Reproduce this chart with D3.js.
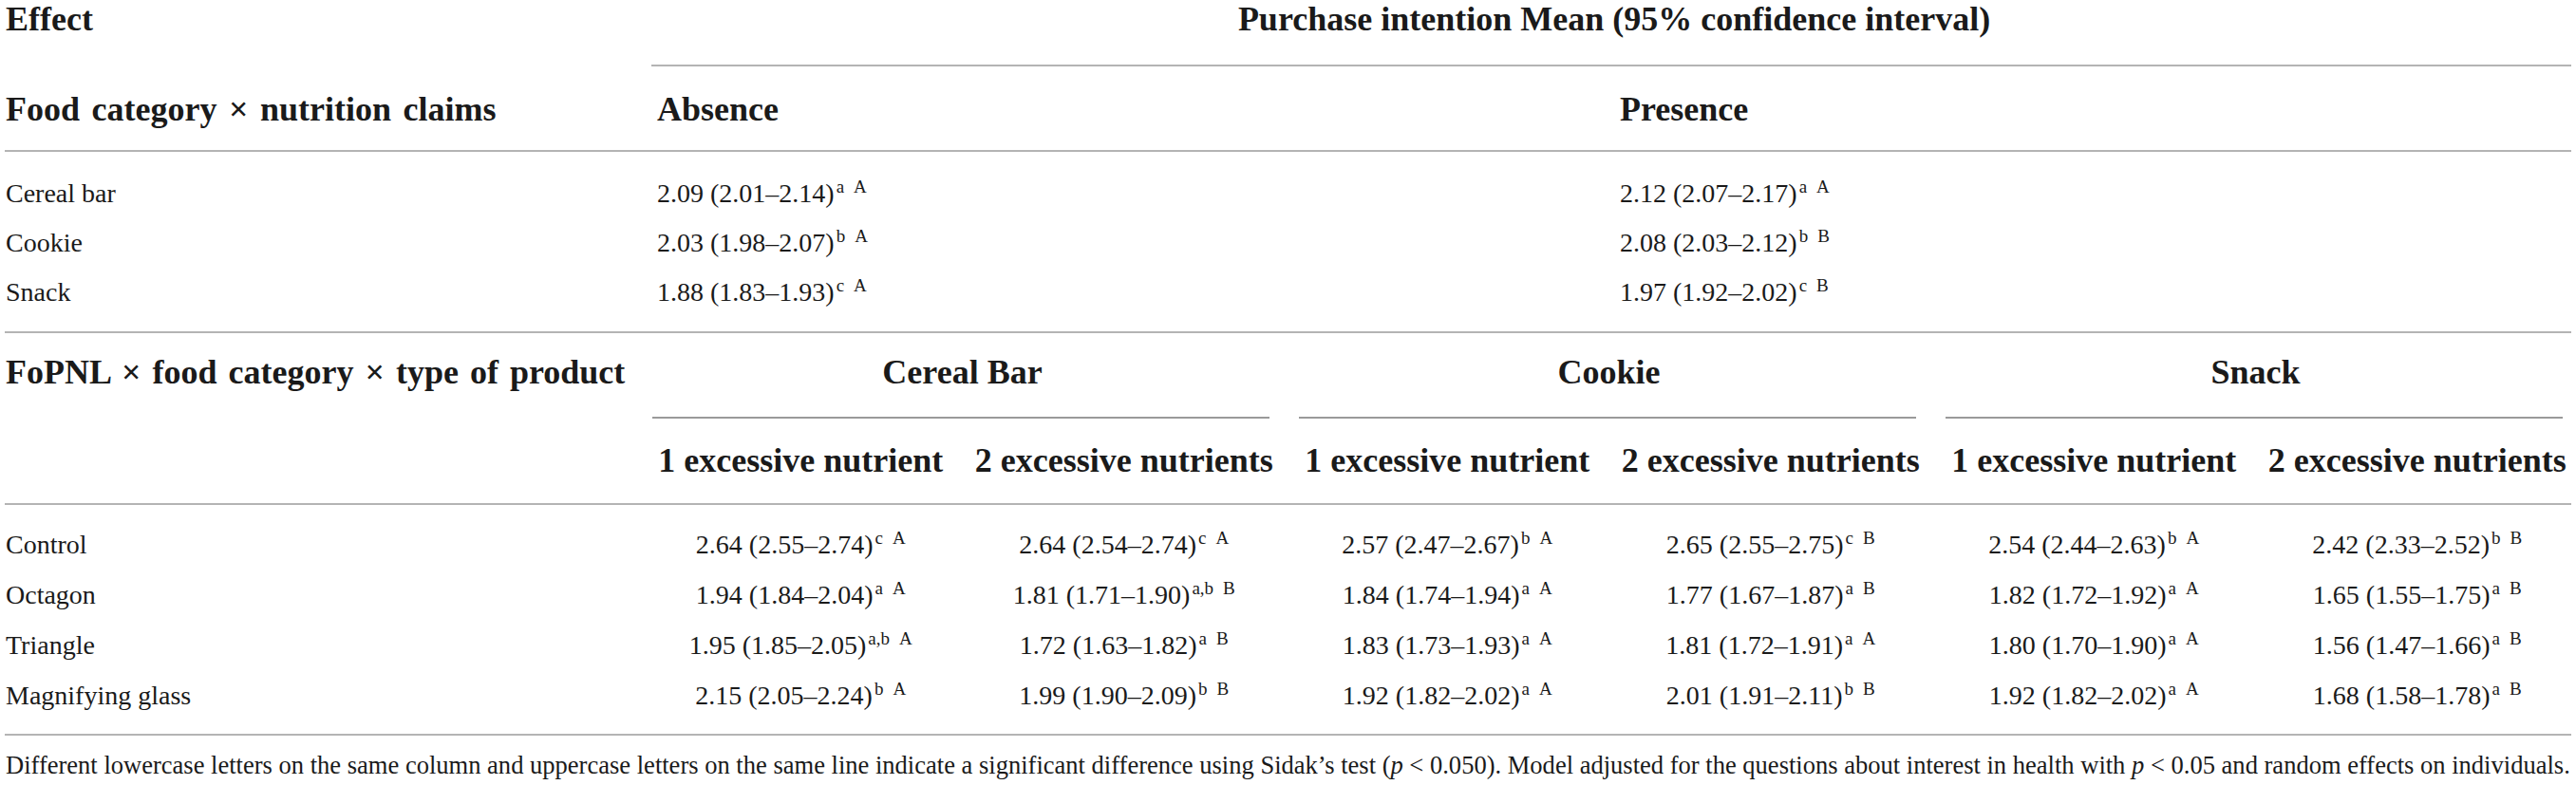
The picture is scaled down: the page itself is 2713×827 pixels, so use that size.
<!DOCTYPE html>
<html>
<head>
<meta charset="utf-8">
<script src="https://cdn.jsdelivr.net/npm/d3@7"></script>
<style>
  html, body { margin: 0; padding: 0; background: #fff; }
  svg { display: block; }
  text { font-family: "Liberation Serif", "DejaVu Serif", serif; fill: #1a1a1a; }
</style>
</head>
<body>
<div id="chart"></div>
<script>
// ---------- data ----------
const effectTitle = "Effect";
const spanTitle = "Purchase intention Mean (95% confidence interval)";

// Section 1: Food category x nutrition claims
const section1Title = "Food category \u00d7 nutrition claims";
const claimLevels = ["Absence", "Presence"];
const foodCategories = ["Cereal bar", "Cookie", "Snack"];
const absenceMean  = [2.09, 2.03, 1.88];
const absenceLow   = [2.01, 1.98, 1.83];
const absenceHigh  = [2.14, 2.07, 1.93];
const absenceLower = ["a", "b", "c"];
const absenceUpper = ["A", "A", "A"];
const presenceMean  = [2.12, 2.08, 1.97];
const presenceLow   = [2.07, 2.03, 1.92];
const presenceHigh  = [2.17, 2.12, 2.02];
const presenceLower = ["a", "b", "c"];
const presenceUpper = ["A", "B", "B"];

// Section 2: FoPNL x food category x type of product
const section2Title = "FoPNL \u00d7 food category \u00d7 type of product";
const groups = ["Cereal Bar", "Cookie", "Snack"];
const productTypes = ["1 excessive nutrient", "2 excessive nutrients"];
const fopnl = ["Control", "Octagon", "Triangle", "Magnifying glass"];
// columns: CerealBar-1, CerealBar-2, Cookie-1, Cookie-2, Snack-1, Snack-2
const cb1Mean = [2.64, 1.94, 1.95, 2.15], cb1Low = [2.55, 1.84, 1.85, 2.05], cb1High = [2.74, 2.04, 2.05, 2.24];
const cb1Lower = ["c", "a", "a,b", "b"], cb1Upper = ["A", "A", "A", "A"];
const cb2Mean = [2.64, 1.81, 1.72, 1.99], cb2Low = [2.54, 1.71, 1.63, 1.90], cb2High = [2.74, 1.90, 1.82, 2.09];
const cb2Lower = ["c", "a,b", "a", "b"], cb2Upper = ["A", "B", "B", "B"];
const ck1Mean = [2.57, 1.84, 1.83, 1.92], ck1Low = [2.47, 1.74, 1.73, 1.82], ck1High = [2.67, 1.94, 1.93, 2.02];
const ck1Lower = ["b", "a", "a", "a"], ck1Upper = ["A", "A", "A", "A"];
const ck2Mean = [2.65, 1.77, 1.81, 2.01], ck2Low = [2.55, 1.67, 1.72, 1.91], ck2High = [2.75, 1.87, 1.91, 2.11];
const ck2Lower = ["c", "a", "a", "b"], ck2Upper = ["B", "B", "A", "B"];
const sn1Mean = [2.54, 1.82, 1.80, 1.92], sn1Low = [2.44, 1.72, 1.70, 1.82], sn1High = [2.63, 1.92, 1.90, 2.02];
const sn1Lower = ["b", "a", "a", "a"], sn1Upper = ["A", "A", "A", "A"];
const sn2Mean = [2.42, 1.65, 1.56, 1.68], sn2Low = [2.33, 1.55, 1.47, 1.58], sn2High = [2.52, 1.75, 1.66, 1.78];
const sn2Lower = ["b", "a", "a", "a"], sn2Upper = ["B", "B", "B", "B"];

const footnoteParts = [
  ["Different lowercase letters on the same column and uppercase letters on the same line indicate a significant difference using Sidak\u2019s test (", false],
  ["p", true],
  [" < 0.050). Model adjusted for the questions about interest in health with ", false],
  ["p", true],
  [" < 0.05 and random effects on individuals.", false]
];

// ---------- build tables from arrays ----------
const topColumns = [
  {mean: absenceMean, low: absenceLow, high: absenceHigh, lower: absenceLower, upper: absenceUpper},
  {mean: presenceMean, low: presenceLow, high: presenceHigh, lower: presenceLower, upper: presenceUpper}
];
const botColumns = [
  {mean: cb1Mean, low: cb1Low, high: cb1High, lower: cb1Lower, upper: cb1Upper},
  {mean: cb2Mean, low: cb2Low, high: cb2High, lower: cb2Lower, upper: cb2Upper},
  {mean: ck1Mean, low: ck1Low, high: ck1High, lower: ck1Lower, upper: ck1Upper},
  {mean: ck2Mean, low: ck2Low, high: ck2High, lower: ck2Lower, upper: ck2Upper},
  {mean: sn1Mean, low: sn1Low, high: sn1High, lower: sn1Lower, upper: sn1Upper},
  {mean: sn2Mean, low: sn2Low, high: sn2High, lower: sn2Lower, upper: sn2Upper}
];
const subKeys = [];
groups.forEach(g => productTypes.forEach(p => subKeys.push(g + "|" + p)));

// ---------- layout ----------
const W = 2713, H = 827;
const leftX = 6, lineL = 5, lineR = 2708;
const boldSize = 36, bodySize = 28, supSize = 19;
const ruleColor = "#b4b4b4", groupRuleColor = "#9a9a9a";

const svg = d3.select("#chart").append("svg").attr("width", W).attr("height", H);
svg.append("rect").attr("width", W).attr("height", H).attr("fill", "#fff");

const xTop = d3.scaleBand().domain(claimLevels).range([686, 2714]);
const yTop = d3.scalePoint().domain(foodCategories).range([213, 317]);
const xGroup = d3.scaleBand().domain(groups).range([673, 2716]);
const xSub = d3.scaleBand().domain(subKeys).range([673, 2716]);
const yBot = d3.scalePoint().domain(fopnl).range([583, 742]);

const fmt = d3.format(".2f");

function rule(x1, x2, y, color) {
  svg.append("line").attr("x1", x1).attr("x2", x2).attr("y1", y).attr("y2", y)
    .attr("stroke", color || ruleColor).attr("stroke-width", 2);
}
function bold(x, y, s, anchor) {
  return svg.append("text").attr("x", x).attr("y", y).attr("font-size", boldSize)
    .attr("font-weight", "bold").attr("text-anchor", anchor || "start").text(s);
}
function body(x, y, s) {
  return svg.append("text").attr("x", x).attr("y", y).attr("font-size", bodySize).text(s);
}
function cell(x, y, col, i, anchor) {
  const t = svg.append("text").attr("x", x).attr("y", y).attr("font-size", bodySize)
    .attr("text-anchor", anchor);
  t.append("tspan").text(fmt(col.mean[i]) + " (" + fmt(col.low[i]) + "\u2013" + fmt(col.high[i]) + ")");
  t.append("tspan").attr("font-size", supSize).attr("dx", 2).attr("dy", -10).text(col.lower[i]);
  t.append("tspan").attr("font-size", supSize).attr("dx", 10).text(col.upper[i]);
}

// ---------- header ----------
bold(leftX, 32, effectTitle);
bold((xTop.range()[0] + xTop.range()[1]) / 2, 32, spanTitle, "middle");
rule(686, lineR, 69);

// ---------- section 1 ----------
bold(leftX, 127, section1Title).attr("word-spacing", 3.5);
claimLevels.forEach(c => bold(xTop(c) + 6, 127, c));
rule(lineL, lineR, 159);
foodCategories.forEach((f, i) => {
  body(leftX, yTop(f), f);
  claimLevels.forEach((c, j) => cell(xTop(c) + 6, yTop(f), topColumns[j], i, "start"));
});
rule(lineL, lineR, 350);

// ---------- section 2 ----------
bold(leftX, 404, section2Title).attr("word-spacing", 3);
groups.forEach(g => {
  bold(xGroup(g) + xGroup.bandwidth() / 2, 404, g, "middle");
  rule(xGroup(g) + 14, Math.min(xGroup(g) + xGroup.bandwidth() - 17, lineR), 440, groupRuleColor);
});
subKeys.forEach(k => bold(xSub(k) + xSub.bandwidth() / 2, 497, k.split("|")[1], "middle"));
rule(lineL, lineR, 531);
fopnl.forEach((f, i) => {
  body(leftX, yBot(f), f);
  subKeys.forEach((k, j) => cell(xSub(k) + xSub.bandwidth() / 2, yBot(f), botColumns[j], i, "middle"));
});
rule(lineL, lineR, 774);

// ---------- footnote ----------
const fn = svg.append("text").attr("x", leftX).attr("y", 815).attr("font-size", 24);
footnoteParts.forEach(([s, it]) => {
  const ts = fn.append("tspan").text(s);
  if (it) ts.attr("font-style", "italic");
});
const w = fn.node().getComputedTextLength();
fn.attr("font-size", 24 * (lineR - leftX) / w);
</script>
</body>
</html>
